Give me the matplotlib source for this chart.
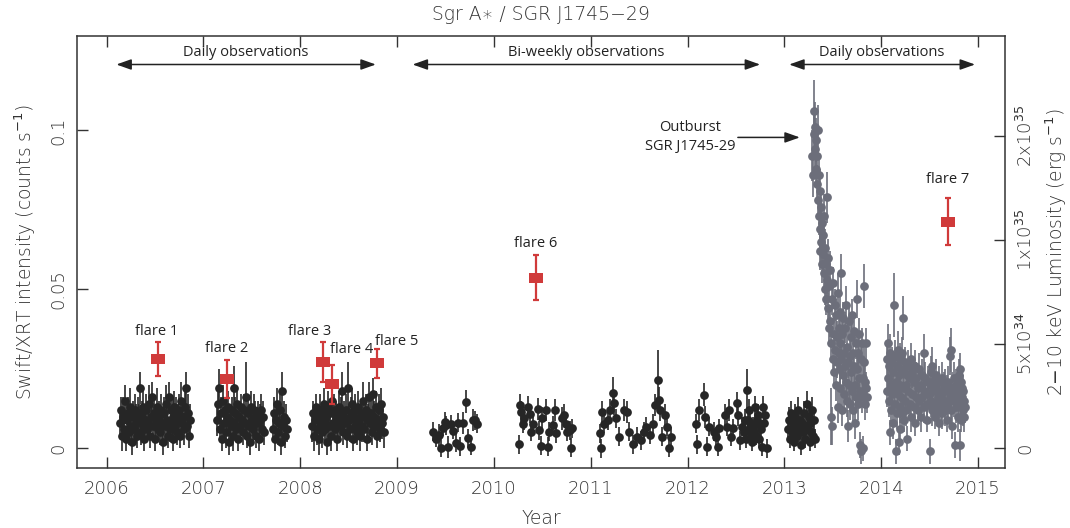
import numpy as np
import matplotlib
matplotlib.use("Agg")
import matplotlib.pyplot as plt
from matplotlib.path import Path

# ---- data (rates in 1e-3 counts/s) ----
c1_t = 2006 + np.array([0.14, 0.15, 0.16, 0.17, 0.18, 0.19, 0.20, 0.21, 0.22, 0.23, 0.24, 0.25, 0.26, 0.27, 0.28,
                        0.29, 0.30, 0.31, 0.32, 0.33, 0.34, 0.35, 0.36, 0.37, 0.38, 0.39, 0.40, 0.41, 0.42, 0.43,
                        0.44, 0.45, 0.46, 0.47, 0.48, 0.49, 0.50, 0.51, 0.52, 0.53, 0.54, 0.55, 0.56, 0.57, 0.58,
                        0.59, 0.60, 0.61, 0.62, 0.63, 0.64, 0.65, 0.66, 0.67, 0.68, 0.69, 0.70, 0.71, 0.72, 0.73,
                        0.74, 0.75, 0.76, 0.77, 0.78, 0.79, 0.80, 0.81, 0.82, 0.83, 0.84, 0.85, 0.86])
c1_r = [8, 12, 4, 10, 6, 15, 3, 9, 11, 5, 13, 7, 2, 10, 6, 12, 8, 4, 11, 9, 19, 5, 10, 7, 13, 3, 9, 12, 6, 8,
        14, 4, 10, 16, 7, 11, 3, 9, 13, 6, 10, 5, 12, 8, 2, 11, 7, 14, 9, 4, 16, 6, 12, 8, 10, 3, 13, 7, 11, 5,
        9, 12, 4, 15, 8, 10, 6, 13, 19, 7, 11, 4, 9]
c1_e = [5, 4, 5, 6, 4, 5, 4, 5, 5, 4, 6, 5, 4, 5, 4, 5, 6, 4, 5, 5, 5, 4, 5, 4, 6, 4, 5, 5, 4, 5,
        6, 4, 5, 5, 4, 5, 4, 5, 6, 4, 5, 4, 5, 5, 4, 5, 4, 6, 5, 4, 5, 4, 5, 5, 6, 4, 5, 4, 5, 4,
        5, 5, 4, 6, 5, 4, 5, 5, 5, 4, 6, 4, 5]

c2_t = 2007 + np.array([0.14, 0.15, 0.16, 0.17, 0.18, 0.19, 0.20, 0.21, 0.22, 0.23, 0.24, 0.25, 0.26, 0.27, 0.28,
                        0.29, 0.30, 0.31, 0.32, 0.33, 0.34, 0.35, 0.36, 0.37, 0.38, 0.39, 0.40, 0.41, 0.42, 0.43,
                        0.44, 0.45, 0.46, 0.47, 0.48, 0.49, 0.50, 0.51, 0.52, 0.53, 0.54, 0.55, 0.56, 0.57, 0.58,
                        0.59, 0.60, 0.61, 0.62])
c2_r = [9, 14, 19, 6, 11, 3, 15, 8, 12, 5, 10, 13, 2, 9, 7, 12, 4, 19, 8, 11, 6, 14, 3, 10, 7, 13, 9, 5, 12, 8,
        16, 4, 11, 7, 2, 13, 9, 6, 12, 10, 4, 8, 11, 3, 9, 12, 6, 10, 5]
c2_e = [5, 5, 6, 4, 5, 4, 5, 5, 4, 5, 4, 5, 4, 5, 5, 4, 5, 7, 4, 5, 4, 5, 4, 5, 5, 4, 5, 4, 5, 5,
        11, 4, 5, 4, 4, 5, 5, 4, 5, 5, 4, 5, 4, 4, 5, 5, 4, 5, 4]

c3_t = 2007 + np.array([0.72, 0.73, 0.74, 0.75, 0.76, 0.77, 0.78, 0.79, 0.80, 0.81, 0.82, 0.83, 0.84, 0.85, 0.86])
c3_r = [6, 11, 3, 9, 14, 5, 8, 12, 2, 18, 7, 10, 4, 9, 6]
c3_e = [4, 5, 4, 5, 5, 4, 5, 5, 4, 6, 4, 5, 4, 5, 4]

c4_t = 2008 + np.array([0.12, 0.13, 0.14, 0.15, 0.16, 0.17, 0.18, 0.19, 0.20, 0.21, 0.22, 0.23, 0.24, 0.25, 0.26,
                        0.27, 0.28, 0.29, 0.30, 0.31, 0.32, 0.33, 0.34, 0.35, 0.36, 0.37, 0.38, 0.39, 0.40, 0.41,
                        0.42, 0.43, 0.44, 0.45, 0.46, 0.47, 0.48, 0.49, 0.50, 0.51, 0.52, 0.53, 0.54, 0.55, 0.56,
                        0.57, 0.58, 0.59, 0.60, 0.61, 0.62, 0.63, 0.64, 0.65, 0.66, 0.67, 0.68, 0.69, 0.70, 0.71,
                        0.72, 0.73, 0.74, 0.75, 0.76, 0.77, 0.78, 0.79, 0.80, 0.81, 0.82, 0.83, 0.84, 0.85, 0.86])
c4_r = [7, 11, 4, 9, 13, 6, 10, 3, 12, 8, 5, 11, 9, 14, 6, 10, 2, 13, 7, 11, 4, 15, 8, 12, 6, 10, 3, 9, 13, 7,
        11, 18, 5, 10, 8, 12, 4, 19, 9, 6, 11, 14, 3, 10, 7, 12, 8, 5, 13, 9, 4, 11, 7, 15, 6, 10, 12, 3, 9, 16,
        8, 11, 5, 17, 10, 7, 13, 4, 9, 12, 6, 14, 8, 10, 5]
c4_e = [5, 4, 5, 5, 4, 5, 4, 5, 5, 4, 5, 4, 5, 5, 4, 5, 4, 5, 5, 4, 5, 5, 4, 5, 4, 5, 4, 5, 5, 4,
        5, 6, 4, 5, 4, 5, 4, 8, 5, 4, 5, 5, 4, 5, 4, 5, 5, 4, 5, 4, 5, 4, 5, 6, 4, 5, 5, 4, 5, 5,
        4, 5, 4, 5, 5, 4, 5, 4, 5, 5, 4, 5, 5, 4, 5]

c5_t = [2009.37, 2009.40, 2009.43, 2009.45, 2009.47, 2009.49, 2009.51, 2009.53, 2009.56, 2009.58,
        2009.61, 2009.63, 2009.65, 2009.68, 2009.71, 2009.73, 2009.76, 2009.78, 2009.80, 2009.83]
c5_r = [5.2, 3.0, 4.2, 0.2, 6.5, 8.3, 7.3, 0.5, 7.6, 5.5, 1.7, 8.0, 0.7, 8.0, 14.7, 3.1, 0.4, 8.8, 8.8, 7.7]
c5_e = [3.0, 2.5, 3.5, 3.0, 2.5, 3.0, 3.0, 3.5, 3.0, 2.5, 3.0, 3.0, 3.0, 3.5, 3.5, 3.0, 2.5, 3.5, 3.0, 3.0]

c6_t = [2010.26, 2010.27, 2010.28, 2010.30, 2010.31, 2010.35, 2010.37, 2010.38, 2010.40, 2010.46, 2010.47,
        2010.49, 2010.50, 2010.54, 2010.56, 2010.57, 2010.61, 2010.63, 2010.64, 2010.70, 2010.72, 2010.74,
        2010.76, 2010.79, 2010.80, 2010.81]
c6_r = [1.2, 13.6, 11.5, 7.8, 9.4, 13.1, 10.9, 5.2, 7.8, 12.4, 5.7, 0.8, 9.4, 12.0, 0.5, 5.2, 7.3, 12.0, 4.7,
        9.4, 10.4, 7.8, 5.2, 5.7, 0.2, 6.3]
c6_e = [3.0, 3.5, 3.5, 3.0, 3.5, 3.5, 3.0, 3.0, 3.5, 3.5, 3.0, 3.0, 3.5, 3.5, 3.0, 3.0, 3.0, 3.5, 3.0, 3.5,
        3.5, 3.0, 3.0, 3.0, 3.0, 3.0]

c7_t = [2011.10, 2011.11, 2011.12, 2011.14, 2011.18, 2011.20, 2011.23, 2011.24, 2011.26, 2011.29, 2011.34,
        2011.37, 2011.40, 2011.44, 2011.48, 2011.52, 2011.55, 2011.57, 2011.61, 2011.64, 2011.66, 2011.69,
        2011.71, 2011.72, 2011.74, 2011.77, 2011.79, 2011.81, 2011.83]
c7_r = [4.7, 0.0, 11.5, 7.8, 8.8, 12.0, 17.3, 14.1, 9.4, 3.7, 12.0, 11.5, 5.2, 1.2, 3.7, 2.6, 5.2, 6.8, 4.2,
        7.8, 13.6, 21.5, 15.2, 12.0, 3.7, 10.4, 6.8, 0.2, 3.7]
c7_e = [3.0, 3.0, 3.5, 3.0, 3.0, 3.5, 5.0, 3.5, 3.0, 3.0, 3.5, 3.5, 3.0, 3.0, 3.0, 3.0, 3.0, 3.0, 3.0, 3.0,
        3.5, 9.4, 4.0, 3.5, 3.0, 3.5, 3.0, 3.0, 3.0]

c8_t = [2012.09, 2012.10, 2012.12, 2012.17, 2012.18, 2012.20, 2012.22, 2012.27, 2012.29, 2012.31, 2012.33,
        2012.39, 2012.41, 2012.43, 2012.45, 2012.47, 2012.51, 2012.52, 2012.54, 2012.56, 2012.58, 2012.59,
        2012.60, 2012.61, 2012.62, 2012.63, 2012.64, 2012.65, 2012.66, 2012.67, 2012.68, 2012.69, 2012.70,
        2012.71, 2012.72, 2012.73, 2012.74, 2012.75, 2012.76, 2012.77, 2012.78, 2012.79, 2012.80, 2012.82]
c8_r = [7.8, 1.2, 12.0, 16.8, 9.9, 0.5, 6.8, 5.2, 3.7, 0.5, 6.3, 10.4, 6.8, 12.0, 3.7, 6.3, 14.1, 10.4, 2.6,
        6.8, 5.0, 9.0, 3.0, 18.3, 8.8, 6.0, 12.0, 8.0, 4.2, 2.0, 7.0, 5.0, 13.1, 4.0, 9.0, 10.4, 3.0, 7.3, 6.0,
        0.5, 13.1, 8.0, 10.4, 0.0]
c8_e = [3.0, 3.0, 3.5, 3.6, 3.5, 3.0, 3.0, 3.0, 3.0, 3.0, 3.0, 3.5, 3.0, 3.5, 3.0, 3.0, 3.5, 3.5, 3.0, 3.0,
        3.0, 3.5, 3.0, 6.7, 3.0, 3.0, 3.5, 3.0, 3.0, 3.0, 3.0, 3.0, 3.5, 3.0, 3.5, 3.5, 3.0, 3.0, 3.0, 3.0,
        3.5, 3.0, 3.5, 3.0]

c9_t = 2013 + np.array([0.04, 0.05, 0.06, 0.07, 0.08, 0.09, 0.10, 0.11, 0.12, 0.13, 0.14, 0.15, 0.16, 0.17, 0.18,
                        0.19, 0.20, 0.21, 0.22, 0.23, 0.24, 0.25, 0.26, 0.27, 0.28, 0.29, 0.30, 0.31, 0.32])
c9_r = [6, 9, 3, 11, 5, 8, 2, 10, 7, 4, 12, 6, 9, 1, 8, 5, 11, 3, 7, 14, 6, 10, 2, 8, 5, 12, 4, 9, 3]
c9_e = [4, 4, 3, 4, 4, 4, 3, 4, 4, 3, 4, 4, 4, 3, 4, 4, 4, 3, 4, 4, 4, 4, 3, 4, 4, 4, 3, 4, 3]

# SGR J1745-29 outburst, 2013
ob_t = [2013.29, 2013.30, 2013.31, 2013.31, 2013.32, 2013.32, 2013.33, 2013.33, 2013.34, 2013.34,
        2013.35, 2013.35, 2013.36, 2013.36, 2013.37, 2013.37, 2013.37, 2013.38, 2013.38, 2013.39,
        2013.39, 2013.40, 2013.40, 2013.41, 2013.41, 2013.42, 2013.42, 2013.43, 2013.43, 2013.44,
        2013.44, 2013.45, 2013.45, 2013.46, 2013.46, 2013.47, 2013.47, 2013.48, 2013.48, 2013.49,
        2013.49, 2013.50, 2013.50, 2013.51, 2013.51, 2013.52, 2013.52, 2013.53, 2013.53, 2013.54,
        2013.54, 2013.55, 2013.55, 2013.56, 2013.56, 2013.57, 2013.57, 2013.58, 2013.58, 2013.59,
        2013.59, 2013.60, 2013.60, 2013.61, 2013.61, 2013.62, 2013.62, 2013.63, 2013.63, 2013.64,
        2013.64, 2013.65, 2013.65, 2013.66, 2013.66, 2013.67, 2013.67, 2013.68, 2013.68, 2013.69,
        2013.69, 2013.70, 2013.70, 2013.71, 2013.71, 2013.72, 2013.72, 2013.73, 2013.73, 2013.74,
        2013.74, 2013.75, 2013.75, 2013.76, 2013.76, 2013.77, 2013.77, 2013.78, 2013.78, 2013.79,
        2013.79, 2013.80, 2013.80, 2013.81, 2013.81, 2013.82, 2013.82, 2013.83, 2013.83, 2013.84,
        2013.84, 2013.85]
ob_r = [92, 86, 106, 99, 94, 101, 88, 97, 83, 92, 100, 78, 86, 73, 69, 81, 62, 76, 65, 58,
        71, 67, 61, 55, 73, 63, 50, 58, 47, 79, 53, 44, 60, 51, 38, 40, 56, 10, 33, 47,
        7, 28, 52, 36, 24, 45, 31, 20, 42, 35, 27, 49, 13, 30, 38, 25, 43, 19, 33, 55,
        28, 12, 36, 23, 41, 30, 17, 38, 26, 21, 45, 32, 15, 7, 27, 40, 20, 29, 14, 35,
        24, 18, 42, 30, 12, 26, 37, 20, 8, 33, 16, 47, 25, 14, 30, 22, 36, 1, 18, -1,
        28, 33, 16, 22, 0, 51, 27, 21, 14, 33, 19, 16]
ob_e = [8, 7, 10, 7, 7, 8, 6, 7, 6, 7, 8, 6, 6, 6, 6, 7, 6, 6, 6, 6,
        6, 6, 6, 6, 7, 6, 5, 6, 5, 8, 5, 5, 6, 5, 5, 5, 6, 9, 5, 5,
        6, 5, 5, 5, 5, 5, 5, 5, 5, 5, 5, 6, 5, 5, 5, 5, 5, 5, 5, 6,
        5, 5, 5, 5, 5, 5, 5, 5, 5, 5, 6, 5, 5, 5, 5, 5, 5, 5, 5, 5,
        5, 5, 5, 5, 5, 5, 5, 5, 5, 5, 5, 6, 5, 5, 5, 5, 5, 4, 5, 4,
        5, 5, 5, 5, 4, 7, 5, 5, 5, 5, 5, 5]

# 2014 monitoring
y14_t = [2014.06, 2014.06, 2014.07, 2014.07, 2014.08, 2014.08, 2014.09, 2014.09, 2014.10, 2014.10,
         2014.11, 2014.11, 2014.12, 2014.12, 2014.13, 2014.13, 2014.14, 2014.14, 2014.15, 2014.15,
         2014.16, 2014.16, 2014.17, 2014.17, 2014.18, 2014.18, 2014.19, 2014.19, 2014.20, 2014.20,
         2014.21, 2014.21, 2014.22, 2014.22, 2014.23, 2014.23, 2014.24, 2014.24, 2014.25, 2014.25,
         2014.26, 2014.26, 2014.27, 2014.27, 2014.28, 2014.28, 2014.30, 2014.30, 2014.31, 2014.31,
         2014.32, 2014.32, 2014.34, 2014.34, 2014.35, 2014.35, 2014.36, 2014.36, 2014.38, 2014.38,
         2014.39, 2014.39, 2014.41, 2014.41, 2014.42, 2014.42, 2014.44, 2014.44, 2014.45, 2014.45,
         2014.47, 2014.47, 2014.48, 2014.48, 2014.50, 2014.50, 2014.51, 2014.51, 2014.53, 2014.53,
         2014.54, 2014.54, 2014.56, 2014.56, 2014.57, 2014.57, 2014.59, 2014.59, 2014.60, 2014.60,
         2014.62, 2014.62, 2014.63, 2014.63, 2014.65, 2014.65, 2014.66, 2014.66, 2014.68, 2014.68,
         2014.69, 2014.69, 2014.71, 2014.71, 2014.72, 2014.72, 2014.73, 2014.73, 2014.75, 2014.75,
         2014.76, 2014.76, 2014.77, 2014.77, 2014.79, 2014.79, 2014.80, 2014.80, 2014.81, 2014.81,
         2014.82, 2014.82, 2014.83, 2014.83, 2014.84, 2014.84, 2014.85, 2014.85, 2014.86, 2014.86,
         2014.87]
y14_r = [28, 18, 22, 33, 15, 26, 5, 30, 20, 12,
         27, 17, 24, 8, 45, 19, 29, 14, 21, -1,
         26, 11, 17, 31, 23, 2, 13, 28, 20, 6,
         25, 16, 11, 30, 41, 19, 24, 9, 15, 27,
         20, 12, 23, 3, 18, 26, 14, 22, 28, 10,
         17, 24, 21, 13, 26, 8, 16, 22, 19, 12,
         25, 15, 20, 10, 23, 16, 30, 13, 18, 22,
         14, 9, 21, 17, -1, 20, 15, 24, 26, 12,
         18, 21, 14, 10, 19, 23, 16, 12, 21, 8,
         17, 14, 22, 11, 15, 19, 12, 20, 18, 9,
         14, 21, 29, 16, 31, 12, 19, 7, 15, 22,
         1, 17, 13, 20, 18, 10, 23, 15, 1, 25,
         17, 14, 21, 9, 16, 19, 12, 18, 15, 10,
         13]
y14_e = [6, 5, 5, 6, 5, 5, 4, 6, 5, 5,
         5, 5, 5, 5, 10, 5, 5, 5, 5, 4,
         5, 5, 5, 6, 5, 4, 5, 5, 5, 4,
         5, 5, 5, 5, 7, 5, 5, 4, 5, 5,
         5, 5, 5, 4, 5, 5, 5, 5, 5, 5,
         5, 5, 5, 5, 5, 4, 5, 5, 5, 5,
         5, 5, 5, 5, 5, 5, 6, 5, 5, 5,
         5, 4, 5, 5, 4, 5, 5, 5, 6, 5,
         5, 5, 5, 4, 5, 5, 5, 5, 5, 4,
         5, 5, 5, 5, 5, 5, 5, 5, 5, 4,
         5, 5, 6, 5, 7, 5, 5, 4, 5, 5,
         4, 5, 5, 5, 5, 5, 5, 5, 5, 5,
         5, 5, 5, 4, 5, 5, 5, 5, 5, 5,
         5]

# flares (counts/s)
flare_names = ['flare 1', 'flare 2', 'flare 3', 'flare 4', 'flare 5', 'flare 6', 'flare 7']
flare_t = [2006.53, 2007.24, 2008.23, 2008.33, 2008.79, 2010.435, 2014.69]
flare_r = [0.0281, 0.0217, 0.0272, 0.0201, 0.0267, 0.0536, 0.0713]
flare_e = [0.0054, 0.0060, 0.0063, 0.0062, 0.0045, 0.0071, 0.0073]

year_ticks = [2006, 2007, 2008, 2009, 2010, 2011, 2012, 2013, 2014, 2015]
rate_ticks = [0, 0.05, 0.1]
lum_ticks = [0, 5e34, 1e35, 1.5e35]
lum_labels = ['0', r'5x10$^{34}$', r'1x10$^{35}$', r'2x10$^{35}$']
lum_per_rate = 1.527e36   # erg/s per count/s

dark_t = np.concatenate([c1_t, c2_t, c3_t, c4_t, c5_t, c6_t, c7_t, c8_t, c9_t])
dark_r = np.concatenate([c1_r, c2_r, c3_r, c4_r, c5_r, c6_r, c7_r, c8_r, c9_r]) / 1000.
dark_e = np.concatenate([c1_e, c2_e, c3_e, c4_e, c5_e, c6_e, c7_e, c8_e, c9_e]) / 1000.
grey_t = np.concatenate([ob_t, y14_t])
grey_r = np.concatenate([ob_r, y14_r]) / 1000.
grey_e = np.concatenate([ob_e, y14_e]) / 1000.

# ---- plot ----
axis_font = dict(family=['DejaVu Sans'], fontweight='light', color='#333333')
note_font = dict(family=['Open Sans', 'DejaVu Sans'], color='#222222')

fig = plt.figure(figsize=(10.7, 5.28), dpi=100)
ax = fig.add_axes([0.0722, 0.1142, 0.8671, 0.8176])

ax.errorbar(dark_t, dark_r, yerr=dark_e, fmt='o', ms=6.3, mew=0, color='#262626',
            elinewidth=1.2, capsize=1.9, capthick=1.2, zorder=3)
ax.errorbar(grey_t, grey_r, yerr=grey_e, fmt='o', ms=6.3, mew=0, color='#6c6e7a',
            elinewidth=1.2, capsize=1.9, capthick=1.2, zorder=3)

rect = Path([(-1, -0.66), (1, -0.66), (1, 0.66), (-1, 0.66), (-1, -0.66)])
ax.errorbar(flare_t, flare_r, yerr=flare_e, fmt='none', ecolor='#d03a3a', elinewidth=1.6,
            capsize=2.4, capthick=1.6, zorder=5)
ax.plot(flare_t, flare_r, ls='none', marker=rect, ms=10, mew=0, color='#d03a3a', zorder=6)

label_offsets = [(-1, 20), (0, 22), (-9, 22), (14, 25), (14, 16), (0, 25), (0, 30)]
for name, t, r, off in zip(flare_names, flare_t, flare_r, label_offsets):
    ax.annotate(name, (t, r), xytext=off, textcoords='offset points', ha='center', va='center',
                fontsize=10.5, **note_font)

# observing-cadence arrows
arrow_style = dict(arrowstyle='<|-|>,head_length=0.9,head_width=0.32', color='#222222', lw=1.1,
                   shrinkA=0, shrinkB=0, mutation_scale=10)
for x0, x1, txt in [(2006.10, 2008.78, 'Daily observations'),
                    (2009.16, 2012.75, 'Bi-weekly observations'),
                    (2013.05, 2014.97, 'Daily observations')]:
    ax.annotate('', xy=(x1, 0.934), xytext=(x0, 0.934), xycoords=('data', 'axes fraction'),
                textcoords=('data', 'axes fraction'), arrowprops=arrow_style)
    ax.text((x0 + x1) / 2, 0.962, txt, transform=ax.get_xaxis_transform(), ha='center', va='center',
            fontsize=10.5, **note_font)

ax.annotate('', xy=(2013.16, 0.0978), xytext=(2012.52, 0.0978),
            arrowprops=dict(arrowstyle='-|>,head_length=0.9,head_width=0.32', color='#222222', lw=1.1,
                            shrinkA=0, shrinkB=0, mutation_scale=10))
ax.text(2012.03, 0.0978, 'Outburst\nSGR J1745-29', ha='center', va='center', fontsize=10.5,
        linespacing=1.35, **note_font)

ax.set_xlim(2005.696, 2015.28)
ax.set_ylim(-0.0061, 0.1297)
ax.set_xticks(year_ticks)
ax.set_xticklabels([str(y) for y in year_ticks])
ax.set_yticks(rate_ticks)
ax.set_yticklabels(['0', '0.05', '0.1'], rotation=90, va='center')
ax.tick_params(direction='in', length=8, width=1.0, color='#333333', top=True, right=False,
               labelsize=13, labelcolor='#333333')
ax.tick_params(axis='x', pad=9)
ax.tick_params(axis='y', pad=7)
for lab in ax.get_xticklabels() + ax.get_yticklabels():
    lab.set_fontweight('light')
for s in ax.spines.values():
    s.set_color('#333333')
    s.set_linewidth(1.1)

ax2 = ax.twinx()
ax2.set_ylim(np.array(ax.get_ylim()) * lum_per_rate)
ax2.set_yticks(lum_ticks)
ax2.set_yticklabels(lum_labels, rotation=90, va='center')
ax2.tick_params(direction='in', length=8, width=1.0, color='#333333', labelsize=13,
                labelcolor='#333333', pad=8)
for lab in ax2.get_yticklabels():
    lab.set_fontweight('light')
for s in ax2.spines.values():
    s.set_visible(False)

ax.set_xlabel('Year', fontsize=13.5, labelpad=8, **axis_font)
ax.set_ylabel(r'Swift/XRT intensity (counts s$^{-1}$)', fontsize=13.5, labelpad=8, **axis_font)
ax2.set_ylabel(r'2$-$10 keV Luminosity (erg s$^{-1}$)', fontsize=13.5, labelpad=5, **axis_font)
fig.text(0.506, 0.972, 'Sgr A\u2217 / SGR J1745\u221229', ha='center', va='center', fontsize=13.5,
         **axis_font)

fig.savefig('out.png', dpi=100)
